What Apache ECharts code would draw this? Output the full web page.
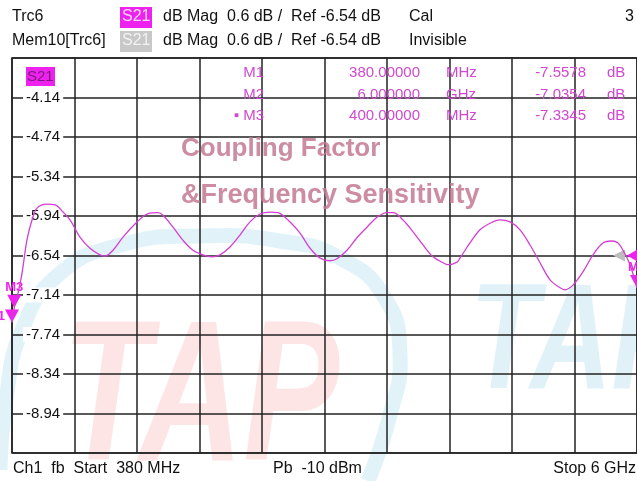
<!DOCTYPE html>
<html>
<head>
<meta charset="utf-8">
<script src="https://cdn.jsdelivr.net/npm/echarts@6/dist/echarts.min.js"></script>
<style>
html, body { margin: 0; padding: 0; background: #fff; }
#chart { width: 637px; height: 481px; }
</style>
</head>
<body>
<div id="chart"></div>
<script>
// S21 trace (GHz, dB)
var freqGHz = [0.38, 0.40, 0.434, 0.470, 0.515, 0.560, 0.605, 0.695, 0.767, 0.839, 0.902, 0.991,
    1.081, 1.171, 1.216, 1.288, 1.378, 1.504, 1.594, 1.693, 1.738, 1.828, 1.918, 2.008, 2.097, 2.178,
    2.250, 2.340, 2.430, 2.520, 2.610, 2.700, 2.772, 2.880, 2.970, 3.060, 3.150, 3.239, 3.302, 3.392,
    3.482, 3.572, 3.662, 3.752, 3.806, 3.896, 3.986, 4.076, 4.166, 4.256, 4.301, 4.382, 4.408, 4.498,
    4.588, 4.678, 4.768, 4.858, 4.948, 5.038, 5.128, 5.218, 5.308, 5.353, 5.424, 5.514, 5.604, 5.694,
    5.775, 5.829, 5.874, 5.937, 6.0];
var s21dB = [-7.558, -7.334, -7.11, -6.81, -6.30, -6.00, -5.82, -5.76, -5.77, -5.88, -6.00, -6.26,
    -6.43, -6.53, -6.55, -6.46, -6.26, -6.03, -5.91, -5.89, -5.93, -6.11, -6.31, -6.46, -6.53, -6.56,
    -6.53, -6.41, -6.23, -6.03, -5.91, -5.88, -5.89, -6.03, -6.20, -6.43, -6.58, -6.62, -6.59, -6.46,
    -6.27, -6.11, -5.96, -5.89, -5.89, -6.00, -6.18, -6.38, -6.56, -6.65, -6.68, -6.64, -6.58, -6.35,
    -6.15, -6.05, -6.00, -6.03, -6.15, -6.38, -6.65, -6.91, -7.03, -7.06, -6.99, -6.79, -6.53, -6.35,
    -6.32, -6.35, -6.46, -6.68, -7.035];

// y tick labels, divisions 1..9 from the bottom
var yTickLabels = ['-8.94', '-8.34', '-7.74', '-7.14', '-6.54', '-5.94', '-5.34', '-4.74', '-4.14'];
var refLevel = -6.54;

// markers
var markerNames = ['M1', 'M2', 'M3'];
var markerFreq = [0.38, 6.0, 0.40];
var markerStim = ['380.00000', '6.000000', '400.00000'];
var markerUnit = ['MHz', 'GHz', 'MHz'];
var markerVal = [-7.5578, -7.0354, -7.3345];

var FONT = 'Liberation Sans, Arial, sans-serif';
var MAG = '#d048d0';

var traceData = freqGHz.map(function (f, i) { return [f, s21dB[i]]; });

var downTri = 'path://M0,0 L14,0 L7,13 Z';
var leftTri = 'path://M0,6 L12,0 L12,12 Z';

var markPts = markerNames.map(function (n, i) {
    var lab = { show: true, formatter: n, color: '#ee22ee', fontFamily: FONT, fontSize: 13, fontWeight: 'bold' };
    if (n === 'M1') { lab.position = 'left'; lab.distance = 0; }
    else { lab.position = 'top'; lab.distance = 1; }
    return {
        coord: [markerFreq[i], markerVal[i]],
        symbol: downTri,
        symbolSize: [14, 13],
        symbolOffset: [0, '-50%'],
        itemStyle: { color: '#f020f0' },
        label: lab
    };
});
// reference level arrows at the right edge
markPts.push({
    coord: [6.0, refLevel], symbol: leftTri, symbolSize: [12, 12], symbolOffset: [-18, 0],
    itemStyle: { color: '#bdbdbd' }, label: { show: false }
});
markPts.push({
    coord: [6.0, refLevel], symbol: leftTri, symbolSize: [12, 14], symbolOffset: [-4, 0],
    itemStyle: { color: '#f020f0' }, label: { show: false }
});

function txt(x, y, s, opt) {
    var st = { text: s, fill: '#111', font: '16px ' + FONT, textVerticalAlign: 'middle' };
    for (var k in opt) st[k] = opt[k];
    return { type: 'text', x: x, y: y, z: 20, style: st };
}

var graphics = [
    // watermark
    { type: 'polyline', z: -1, shape: { smooth: 0.5, points: [[0, 470], [6, 400], [22, 330], [58, 275], [120, 245], [200, 236], [280, 241], [340, 258], [385, 298], [400, 355], [390, 415], [368, 481]] },
      style: { stroke: 'rgba(205,235,245,0.6)', lineWidth: 15, fill: null } },
    { type: 'text', z: -1, x: 62, y: 305, scaleX: 0.72, style: { text: 'TAP', fill: 'rgba(250,190,190,0.4)', font: 'italic bold 200px ' + FONT } },
    { type: 'text', z: -1, x: 470, y: 272, scaleX: 0.75, style: { text: 'TAP', fill: 'rgba(200,230,242,0.55)', font: 'italic bold 150px ' + FONT } },

    // header
    txt(12, 17, 'Trc6'),
    { type: 'rect', z: 20, shape: { x: 120, y: 7, width: 32, height: 21 }, style: { fill: '#ee22ee' } },
    txt(122, 17, 'S21', { fill: '#fbd8fb' }),
    txt(163, 17, 'dB Mag  0.6 dB /  Ref -6.54 dB'),
    txt(409, 17, 'Cal'),
    txt(625, 17, '3'),
    txt(12, 41, 'Mem10[Trc6]'),
    { type: 'rect', z: 20, shape: { x: 120, y: 31, width: 32, height: 21 }, style: { fill: '#c8c8c8' } },
    txt(122, 41, 'S21', { fill: '#f2f2f2' }),
    txt(163, 41, 'dB Mag  0.6 dB /  Ref -6.54 dB'),
    txt(409, 41, 'Invisible'),

    // trace tag inside the grid
    { type: 'rect', z: 20, shape: { x: 26, y: 67, width: 29, height: 19 }, style: { fill: '#ee22ee' } },
    txt(27, 77, 'S21', { fill: '#7a1a7a', font: '15px ' + FONT }),

    // title overlay
    txt(181, 149, 'Coupling Factor', { fill: 'rgba(195,120,145,0.85)', font: 'bold 26px ' + FONT }),
    txt(181, 196, '&Frequency Sensitivity', { fill: 'rgba(195,120,145,0.85)', font: 'bold 27px ' + FONT }),

    // footer
    txt(13, 469, 'Ch1  fb  Start  380 MHz'),
    txt(273, 469, 'Pb  -10 dBm'),
    txt(636, 469, 'Stop 6 GHz', { textAlign: 'right' })
];

// marker table
markerNames.forEach(function (n, i) {
    var y = 73 + i * 21.5;
    var f = '15px ' + FONT;
    graphics.push(txt(264, y, (n === 'M3' ? '\u25AA ' : '') + n, { fill: MAG, font: f, textAlign: 'right' }));
    graphics.push(txt(420, y, markerStim[i], { fill: MAG, font: f, textAlign: 'right' }));
    graphics.push(txt(446, y, markerUnit[i], { fill: MAG, font: f }));
    graphics.push(txt(586, y, markerVal[i].toFixed(4), { fill: MAG, font: f, textAlign: 'right' }));
    graphics.push(txt(607, y, 'dB', { fill: MAG, font: f }));
});

var chart = echarts.init(document.getElementById('chart'));
chart.setOption({
    animation: false,
    backgroundColor: '#fff',
    grid: {
        left: 12, top: 58, width: 625, height: 395,
        show: true, borderColor: '#222', borderWidth: 1.5
    },
    xAxis: [
        { type: 'value', min: 0.38, max: 6.0, show: false },
        {
            type: 'value', min: 0, max: 10, interval: 1,
            axisLine: { show: false }, axisTick: { show: false }, axisLabel: { show: false },
            splitLine: { show: true, lineStyle: { color: '#222', width: 1.5 } }
        }
    ],
    yAxis: [
        { type: 'value', min: -9.54, max: -3.54, show: false },
        {
            type: 'value', min: 0, max: 10, interval: 1, position: 'left',
            axisLine: { show: false }, axisTick: { show: false },
            splitLine: { show: true, lineStyle: { color: '#222', width: 1.5 } },
            axisLabel: {
                inside: true, margin: 11,
                color: '#111', fontFamily: FONT, fontSize: 15,
                backgroundColor: '#fff', padding: [0, 3],
                formatter: function (v) { return yTickLabels[v - 1] || ''; }
            }
        }
    ],
    series: [{
        type: 'line',
        xAxisIndex: 0, yAxisIndex: 0,
        data: traceData,
        showSymbol: false,
        smooth: 0.35,
        lineStyle: { color: '#d23fd2', width: 1.3 },
        z: 5,
        markPoint: { data: markPts, silent: true }
    }],
    graphic: graphics
});
</script>
</body>
</html>
